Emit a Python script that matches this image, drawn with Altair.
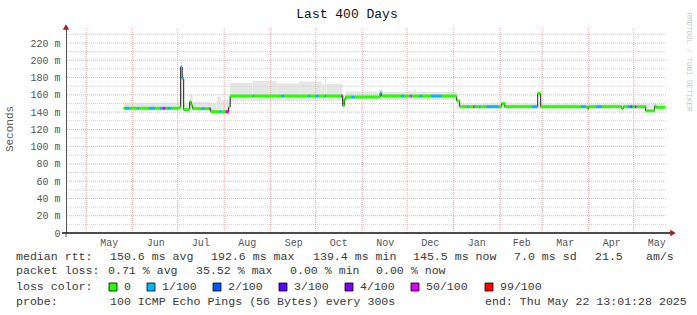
import altair as alt
import pandas as pd

# ---------------- data ----------------
# median rtt segments: each value holds from its date until the next date
seg_dates = [
    "2024-05-26", "2024-05-27", "2024-05-30", "2024-06-04", "2024-06-05", "2024-06-12",
    "2024-06-16", "2024-06-19", "2024-06-21", "2024-06-23", "2024-06-24", "2024-06-27",
    "2024-07-02", "2024-07-03", "2024-07-04", "2024-07-05", "2024-07-09", "2024-07-10",
    "2024-07-11", "2024-07-17", "2024-07-19", "2024-07-22", "2024-07-23", "2024-07-29",
    "2024-07-30", "2024-08-02", "2024-08-04", "2024-08-05", "2024-08-20", "2024-08-21",
    "2024-09-08", "2024-09-10", "2024-09-26", "2024-09-27", "2024-10-01", "2024-10-03",
    "2024-10-07", "2024-10-08", "2024-10-18", "2024-10-19", "2024-10-20", "2024-10-21",
    "2024-10-25", "2024-10-27", "2024-11-13", "2024-11-14", "2024-11-27", "2024-11-29",
    "2024-12-03", "2024-12-04", "2024-12-09", "2024-12-11", "2024-12-17", "2024-12-24",
    "2025-01-03", "2025-01-05", "2025-01-10", "2025-01-11", "2025-01-14", "2025-01-15",
    "2025-01-18", "2025-01-19", "2025-01-23", "2025-01-31", "2025-02-02", "2025-02-04",
    "2025-02-22", "2025-02-26", "2025-02-28", "2025-03-27", "2025-03-30", "2025-03-31",
    "2025-04-01", "2025-04-06", "2025-04-10", "2025-04-23", "2025-04-24", "2025-04-27",
    "2025-04-29", "2025-04-30", "2025-05-01", "2025-05-02", "2025-05-03", "2025-05-09",
    "2025-05-15", "2025-05-16",
]
seg_values = [
    144.4, 144.4, 144.4, 144.4, 144.4, 144.4,
    144.4, 144.4, 144.4, 144.4, 144.4, 144.4,
    145.5, 192.2, 179.0, 142.8, 152.0, 148.0,
    144.0, 144.0, 144.0, 144.0, 140.5, 140.5,
    140.5, 140.5, 146.0, 158.6, 158.6, 158.6,
    158.6, 158.6, 158.6, 158.6, 158.6, 158.6,
    158.6, 158.6, 158.6, 147.5, 154.5, 157.5,
    157.5, 157.5, 162.0, 158.6, 158.6, 158.6,
    158.6, 158.6, 158.6, 158.6, 158.6, 158.6,
    153.0, 146.3, 146.3, 146.3, 146.3, 146.3,
    146.3, 146.3, 146.3, 146.3, 150.0, 146.3,
    146.3, 161.8, 146.3, 146.3, 146.3, 144.0,
    146.3, 146.3, 146.3, 144.0, 146.3, 146.3,
    146.3, 146.3, 146.3, 146.3, 146.3, 141.5,
    147.0, 145.5,
]
seg_losses = [
    "0", "1/100", "0", "1/100", "0", "1/100",
    "0", "1/100", "50/100", "0", "1/100", "0",
    "0", "1/100", "1/100", "0", "0", "0",
    "0", "1/100", "0", "50/100", "0", "1/100",
    "0", "50/100", "0", "0", "1/100", "0",
    "1/100", "0", "1/100", "0", "1/100", "0",
    "1/100", "0", "50/100", "0", "0", "0",
    "1/100", "0", "1/100", "0", "1/100", "0",
    "50/100", "0", "1/100", "0", "1/100", "0",
    "0", "0", "1/100", "0", "50/100", "0",
    "1/100", "0", "1/100", "0", "0", "0",
    "1/100", "0", "0", "1/100", "0", "0",
    "0", "1/100", "0", "0", "0", "1/100",
    "50/100", "1/100", "0", "50/100", "0", "0",
    "0", "0",
]
seg_last = "2025-05-22"

# smoke (spread of the pings): low / high of the grey band per period
smoke_dates = [
    "2024-05-26", "2024-07-02", "2024-07-03", "2024-07-04", "2024-07-05", "2024-07-09",
    "2024-07-11", "2024-07-23", "2024-07-27", "2024-07-30", "2024-08-05", "2024-08-20",
    "2024-09-05", "2024-09-20", "2024-10-05", "2024-10-07", "2024-10-08", "2024-10-19",
    "2024-10-21", "2024-11-12", "2024-11-15", "2024-12-05", "2024-12-07", "2025-01-03",
]
smoke_low = [143, 143, 142, 150, 141.5, 143, 142.5, 138, 138, 138, 153, 153,
             153, 153, 153, 153, 153, 144, 154, 154, 154, 154, 154, 144]
smoke_high = [150.5, 152, 199, 183, 149, 160, 152, 150, 158, 154, 174, 176,
              173, 175.5, 172, 183, 172.5, 160, 164, 166, 163.5, 165.5, 163.5, 149.5]
smoke_last = "2025-05-22"

loss_labels = ["0", "1/100", "2/100", "3/100", "4/100", "50/100", "99/100"]
loss_colors = ["#26ff00", "#00b8ff", "#0059ff", "#5e00ff", "#7e00ff", "#dd00ff", "#ff0000"]

month_starts = ["2024-05-01", "2024-06-01", "2024-07-01", "2024-08-01", "2024-09-01",
                "2024-10-01", "2024-11-01", "2024-12-01", "2025-01-01", "2025-02-01",
                "2025-03-01", "2025-04-01", "2025-05-01"]
month_label_days = [(2024, 5, 16), (2024, 6, 16), (2024, 7, 16), (2024, 8, 16), (2024, 9, 16),
                    (2024, 10, 16), (2024, 11, 16), (2024, 12, 16), (2025, 1, 16), (2025, 2, 15),
                    (2025, 3, 16), (2025, 4, 16), (2025, 5, 16)]
y_major = [20, 40, 60, 80, 100, 120, 140, 160, 180, 200, 220]
y_minor = [10, 30, 50, 70, 90, 110, 130, 150, 170, 190, 210, 230]
y_labels = [0, 20, 40, 60, 80, 100, 120, 140, 160, 180, 200, 220]

title_text = "Last 400 Days"
y_title = "Seconds"
watermark = "RRDTOOL / TOBI OETIKER"
row1 = ["median rtt:", "150.6 ms avg", "192.6 ms max", "139.4 ms min", "145.5 ms now",
        "7.0 ms sd", "21.5", "am/s"]
row2 = ["packet loss:", "0.71 % avg", "35.52 % max", "0.00 % min", "0.00 % now"]
row3 = "loss color:"
row4 = ["probe:", "100 ICMP Echo Pings (56 Bytes) every 300s", "end: Thu May 22 13:01:28 2025"]

# ---------------- tables ----------------
ends = seg_dates[1:] + [seg_last]
seg_df = pd.DataFrame({"start": seg_dates, "end": ends, "value": seg_values, "loss": seg_losses})
pts = []
for i, (s, e, v) in enumerate(zip(seg_dates, ends, seg_values)):
    pts.append({"t": s, "v": v, "o": 2 * i})
    pts.append({"t": e, "v": v, "o": 2 * i + 1})
line_df = pd.DataFrame(pts)
smoke_df = pd.DataFrame({"start": smoke_dates, "end": smoke_dates[1:] + [smoke_last],
                         "low": smoke_low, "high": smoke_high})

# ---------------- layout ----------------
MONO = "Liberation Mono"
W, H = 600, 205
PL, PT = 66, 28
x_scale = alt.Scale(type="utc",
                    domain=[alt.DateTime(year=2024, month=4, date=17, hours=13, minutes=1, utc=True),
                            alt.DateTime(year=2025, month=5, date=22, hours=13, minutes=1, utc=True)])
y_scale = alt.Scale(domain=[0, 237.4], nice=False, zero=False)

x_axis = alt.Axis(values=[alt.DateTime(year=a, month=b, date=c, utc=True) for a, b, c in month_label_days],
                  format="%b", title=None, grid=False, domain=False, ticks=False,
                  labelFont=MONO, labelFontSize=10, labelColor="#555", labelPadding=4,
                  labelFlush=False, labelOverlap=False)
y_axis = alt.Axis(values=y_labels, title=None, grid=False, ticks=False, domainColor="#555",
                  labelExpr="datum.value == 0 ? '0\u00a0\u00a0' : datum.value + ' m'",
                  labelFont=MONO, labelFontSize=10, labelColor="#555", labelPadding=6)

one = pd.DataFrame({"a": [0]})

smoke = alt.Chart(smoke_df).mark_rect(color="#e6e6e6").encode(
    x=alt.X("start:T", scale=x_scale, axis=x_axis), x2="end:T",
    y=alt.Y("low:Q", scale=y_scale, axis=y_axis), y2="high:Q")

minor = alt.Chart(pd.DataFrame({"v": y_minor})).mark_rule(
    color="#d0d0d0", strokeDash=[1, 1], strokeWidth=1).encode(
    y=alt.Y("v:Q", scale=y_scale, axis=None))
major = alt.Chart(pd.DataFrame({"v": y_major})).mark_rule(
    color="#efaaaa", strokeDash=[1, 1], strokeWidth=1).encode(
    y=alt.Y("v:Q", scale=y_scale, axis=None))
vgrid = alt.Chart(pd.DataFrame({"d": month_starts})).mark_rule(
    color="#efaaaa", strokeDash=[1, 1], strokeWidth=1).encode(
    x=alt.X("d:T", scale=x_scale, axis=None))

median_line = alt.Chart(line_df).mark_line(color="#202020", strokeWidth=1).encode(
    x=alt.X("t:T", scale=x_scale, axis=None), y=alt.Y("v:Q", scale=y_scale, axis=None),
    order="o:Q")
colored = alt.Chart(seg_df).mark_rule(strokeWidth=3).encode(
    x=alt.X("start:T", scale=x_scale, axis=None), x2="end:T",
    y=alt.Y("value:Q", scale=y_scale, axis=None),
    color=alt.Color("loss:N", scale=alt.Scale(domain=loss_labels, range=loss_colors), legend=None))

xline = alt.Chart(one).mark_rule(color="#111", strokeWidth=1.3).encode(
    x=alt.value(-4), x2=alt.value(W + 6), y=alt.value(H))
yext = alt.Chart(one).mark_rule(color="#555", strokeWidth=1).encode(
    x=alt.value(0), y=alt.value(H), y2=alt.value(H + 4))
arrow_up = alt.Chart(one).mark_point(shape="triangle-up", filled=True, color="#9b2020",
                                     size=40, opacity=1).encode(x=alt.value(0), y=alt.value(-1))
arrow_right = alt.Chart(one).mark_point(shape="triangle-right", filled=True, color="#9b2020",
                                        size=40, opacity=1).encode(x=alt.value(W + 7), y=alt.value(H))


def txt(s, x, y, size=11.6, color="#3a3a3a", align="left", angle=0):
    return alt.Chart(one).mark_text(text=s, font=MONO, fontSize=size, color=color, align=align,
                                    baseline="middle", angle=angle).encode(
        x=alt.value(x - PL), y=alt.value(y - PT))


texts = [
    txt(title_text, 347, 14, size=13, color="#111", align="center"),
    txt(y_title, 10, 129, size=11, color="#555", align="center", angle=270),
    txt(watermark, 689, 62, size=7.5, color="#c8c8c8", align="center", angle=90),
]
r1x = [16, 110, 211, 313, 413, 514, 595, 646]
for s, x in zip(row1, r1x):
    texts.append(txt(s, x, 257))
r2x = [16, 108, 196, 290, 376]
for s, x in zip(row2, r2x):
    texts.append(txt(s, x, 271))
texts.append(txt(row3, 16, 287))
sq_x = [109, 147, 213, 279, 345, 411, 485]
for lab, col, x in zip(loss_labels, loss_colors, sq_x):
    texts.append(alt.Chart(one).mark_rect(fill=col, stroke="#000", strokeWidth=0.8).encode(
        x=alt.value(x - PL), x2=alt.value(x - PL + 8), y=alt.value(283 - PT), y2=alt.value(291 - PT)))
    texts.append(txt(lab, x + 15, 287))
r4x = [16, 110, 485]
for s, x in zip(row4, r4x):
    texts.append(txt(s, x, 302))

chart = alt.layer(smoke, minor, major, vgrid, median_line, colored, xline, yext,
                  arrow_up, arrow_right, *texts).resolve_axis(
    x="independent", y="independent").properties(
    width=W, height=H,
    padding={"left": PL, "top": PT, "right": 697 - PL - W, "bottom": 315 - PT - H},
    autosize=alt.AutoSizeParams(type="none"),
    background="white",
).configure_view(stroke=None)

chart.save("out.html", embed_options={"renderer": "svg", "actions": False})
